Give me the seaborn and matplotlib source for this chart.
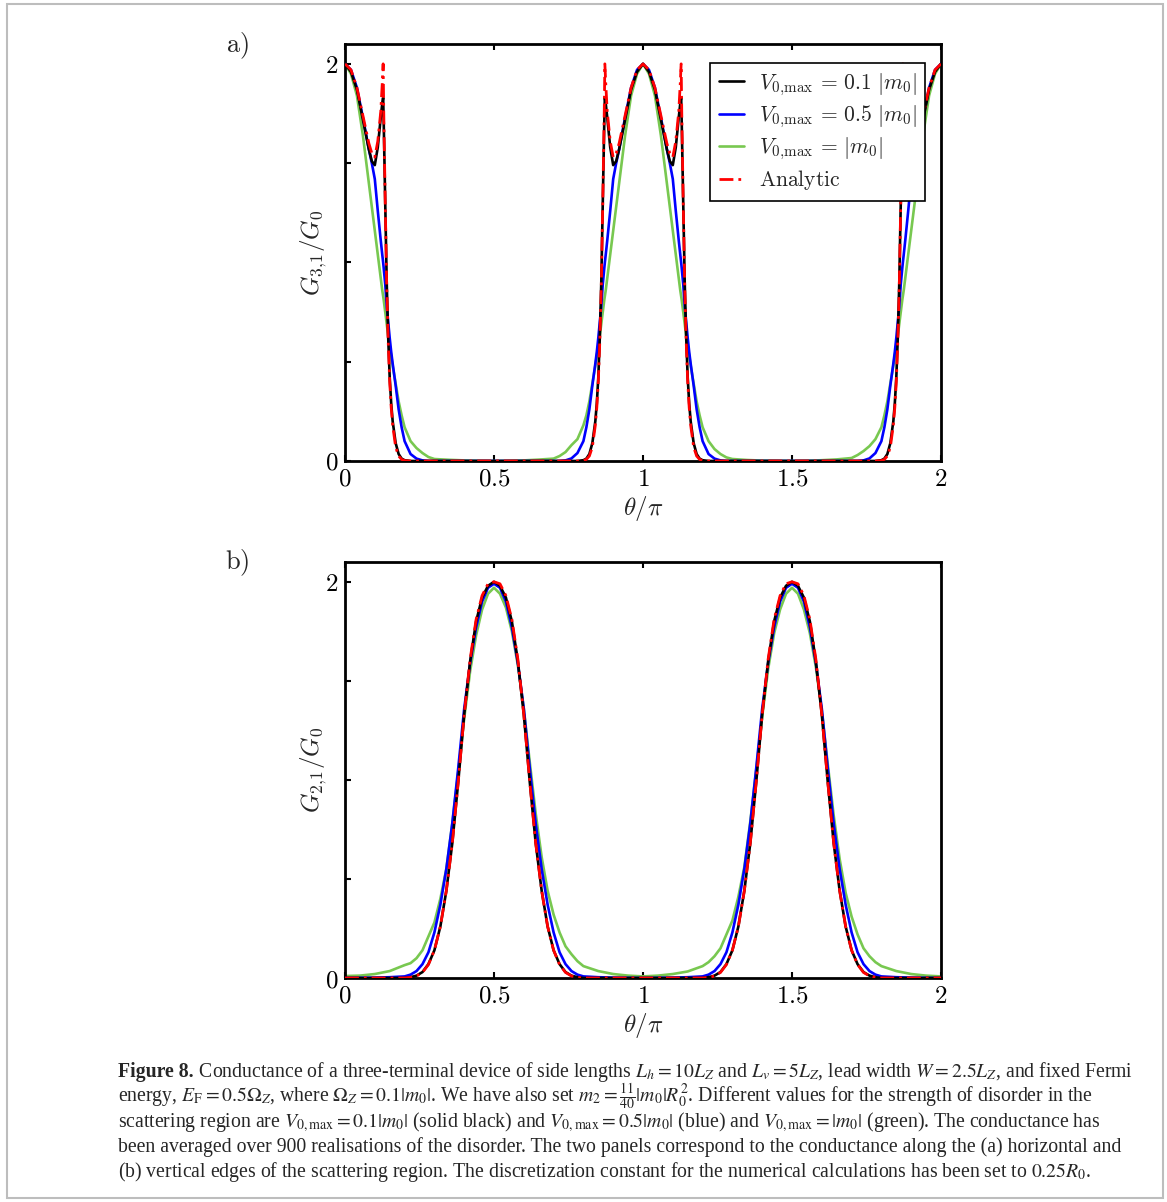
import matplotlib
matplotlib.use("Agg")
import matplotlib.pyplot as plt
from matplotlib.patches import Rectangle
import seaborn as sns
import numpy as np

# ---------------- data: panel (a) G_{3,1}/G_0 ----------------
theta_a = [0, 0.02, 0.04, 0.06, 0.08, 0.09, 0.10, 0.11, 0.12, 0.125, 0.128, 0.13, 0.135, 0.14,
           0.145, 0.15, 0.155, 0.16, 0.17, 0.18, 0.19, 0.20, 0.22, 0.24, 0.26, 0.28, 0.30,
           0.35, 0.40, 0.45, 0.50, 0.55, 0.60, 0.65,
           0.70, 0.72, 0.74, 0.76, 0.78, 0.80, 0.81, 0.82, 0.83, 0.84, 0.845, 0.85, 0.855, 0.86,
           0.865, 0.87, 0.872, 0.875, 0.88, 0.89, 0.90, 0.91, 0.92, 0.94, 0.96, 0.98, 1.00,
           1.02, 1.04, 1.06, 1.08, 1.09, 1.10, 1.11, 1.12, 1.125, 1.128, 1.13, 1.135, 1.14,
           1.145, 1.15, 1.155, 1.16, 1.17, 1.18, 1.19, 1.20, 1.22, 1.24, 1.26, 1.28, 1.30,
           1.35, 1.40, 1.45, 1.50, 1.55, 1.60, 1.65,
           1.70, 1.72, 1.74, 1.76, 1.78, 1.80, 1.81, 1.82, 1.83, 1.84, 1.845, 1.85, 1.855, 1.86,
           1.865, 1.87, 1.872, 1.875, 1.88, 1.89, 1.90, 1.91, 1.92, 1.94, 1.96, 1.98, 2.00]

g31_v01 = [2.00, 1.96, 1.87, 1.72, 1.57, 1.51, 1.49, 1.58, 1.73, 1.80, 1.83, 1.70, 1.30, 0.90,
           0.62, 0.42, 0.29, 0.20, 0.09, 0.035, 0.012, 0.004, 0, 0, 0, 0, 0,
           0, 0, 0, 0, 0, 0, 0,
           0, 0, 0, 0, 0, 0.004, 0.012, 0.035, 0.09, 0.20, 0.29, 0.42, 0.62, 0.90,
           1.30, 1.70, 1.83, 1.80, 1.73, 1.58, 1.49, 1.51, 1.57, 1.72, 1.87, 1.96, 2.00,
           1.96, 1.87, 1.72, 1.57, 1.51, 1.49, 1.58, 1.73, 1.80, 1.83, 1.70, 1.30, 0.90,
           0.62, 0.42, 0.29, 0.20, 0.09, 0.035, 0.012, 0.004, 0, 0, 0, 0, 0,
           0, 0, 0, 0, 0, 0, 0,
           0, 0, 0, 0, 0, 0.004, 0.012, 0.035, 0.09, 0.20, 0.29, 0.42, 0.62, 0.90,
           1.30, 1.70, 1.83, 1.80, 1.73, 1.58, 1.49, 1.51, 1.57, 1.72, 1.87, 1.96, 2.00]

g31_v05 = [2.00, 1.97, 1.88, 1.73, 1.57, 1.50, 1.42, 1.26, 1.11, 1.04, 1.00, 0.97, 0.89, 0.78,
           0.70, 0.62, 0.55, 0.49, 0.38, 0.26, 0.17, 0.10, 0.035, 0.012, 0.003, 0, 0,
           0, 0, 0, 0, 0, 0, 0,
           0, 0, 0.003, 0.013, 0.04, 0.10, 0.17, 0.26, 0.38, 0.49, 0.55, 0.62, 0.70, 0.78,
           0.89, 0.97, 1.00, 1.04, 1.11, 1.26, 1.42, 1.50, 1.57, 1.73, 1.88, 1.97, 2.00,
           1.97, 1.88, 1.73, 1.57, 1.50, 1.42, 1.26, 1.11, 1.04, 1.00, 0.97, 0.89, 0.78,
           0.70, 0.62, 0.55, 0.49, 0.38, 0.26, 0.17, 0.10, 0.035, 0.012, 0.003, 0, 0,
           0, 0, 0, 0, 0, 0, 0,
           0, 0, 0.003, 0.013, 0.04, 0.10, 0.17, 0.26, 0.38, 0.49, 0.55, 0.62, 0.70, 0.78,
           0.89, 0.97, 1.00, 1.04, 1.11, 1.26, 1.42, 1.50, 1.57, 1.73, 1.88, 1.97, 2.00]

g31_v10 = [2.00, 1.95, 1.84, 1.64, 1.40, 1.28, 1.16, 1.04, 0.92, 0.86, 0.83, 0.81, 0.75, 0.69,
           0.63, 0.58, 0.53, 0.48, 0.39, 0.30, 0.23, 0.17, 0.10, 0.065, 0.04, 0.02, 0.01,
           0.006, 0.003, 0.001, 0.0, 0.001, 0.003, 0.007,
           0.012, 0.025, 0.045, 0.08, 0.11, 0.18, 0.23, 0.30, 0.39, 0.48, 0.53, 0.58, 0.63, 0.69,
           0.75, 0.81, 0.83, 0.86, 0.92, 1.04, 1.16, 1.28, 1.40, 1.64, 1.84, 1.95, 2.00,
           1.95, 1.84, 1.64, 1.40, 1.28, 1.16, 1.04, 0.92, 0.86, 0.83, 0.81, 0.75, 0.69,
           0.63, 0.58, 0.53, 0.48, 0.39, 0.30, 0.23, 0.17, 0.10, 0.06, 0.035, 0.018, 0.01,
           0.005, 0.002, 0.001, 0.0, 0.001, 0.004, 0.008,
           0.015, 0.03, 0.05, 0.075, 0.11, 0.17, 0.23, 0.30, 0.39, 0.48, 0.53, 0.58, 0.63, 0.69,
           0.75, 0.81, 0.83, 0.86, 0.92, 1.04, 1.16, 1.28, 1.40, 1.64, 1.84, 1.95, 2.00]

g31_analytic = [2.00, 1.97, 1.88, 1.74, 1.60, 1.55, 1.53, 1.61, 1.76, 1.90, 2.00, 1.76, 1.30, 0.88,
                0.60, 0.40, 0.27, 0.18, 0.07, 0.025, 0.008, 0.002, 0, 0, 0, 0, 0,
                0, 0, 0, 0, 0, 0, 0,
                0, 0, 0, 0, 0, 0.002, 0.008, 0.025, 0.07, 0.18, 0.27, 0.40, 0.60, 0.88,
                1.30, 1.76, 2.00, 1.90, 1.76, 1.61, 1.53, 1.55, 1.60, 1.74, 1.88, 1.97, 2.00,
                1.97, 1.88, 1.74, 1.60, 1.55, 1.53, 1.61, 1.76, 1.90, 2.00, 1.76, 1.30, 0.88,
                0.60, 0.40, 0.27, 0.18, 0.07, 0.025, 0.008, 0.002, 0, 0, 0, 0, 0,
                0, 0, 0, 0, 0, 0, 0,
                0, 0, 0, 0, 0, 0.002, 0.008, 0.025, 0.07, 0.18, 0.27, 0.40, 0.60, 0.88,
                1.30, 1.76, 2.00, 1.90, 1.76, 1.61, 1.53, 1.55, 1.60, 1.74, 1.88, 1.97, 2.00]

# ---------------- data: panel (b) G_{2,1}/G_0 ----------------
theta_b = [0, 0.05, 0.10, 0.15,
           0.20, 0.22, 0.24, 0.26, 0.28, 0.30, 0.32, 0.34, 0.36, 0.38, 0.40, 0.42, 0.44, 0.46,
           0.48, 0.50, 0.52, 0.54, 0.56, 0.58, 0.60, 0.62, 0.64, 0.66, 0.68, 0.70, 0.72, 0.74,
           0.76, 0.78, 0.80,
           0.85, 0.90, 0.95, 1.00, 1.05, 1.10, 1.15,
           1.20, 1.22, 1.24, 1.26, 1.28, 1.30, 1.32, 1.34, 1.36, 1.38, 1.40, 1.42, 1.44, 1.46,
           1.48, 1.50, 1.52, 1.54, 1.56, 1.58, 1.60, 1.62, 1.64, 1.66, 1.68, 1.70, 1.72, 1.74,
           1.76, 1.78, 1.80,
           1.85, 1.90, 1.95, 2.00]

g21_v01 = [0, 0, 0, 0,
           0.0, 0.004, 0.012, 0.03, 0.07, 0.14, 0.26, 0.44, 0.68, 0.99, 1.33, 1.60, 1.80, 1.92,
           1.98, 2.00, 1.98, 1.92, 1.80, 1.60, 1.33, 0.99, 0.68, 0.44, 0.26, 0.14, 0.07, 0.03,
           0.012, 0.004, 0.0,
           0, 0, 0, 0, 0, 0, 0,
           0.0, 0.004, 0.012, 0.03, 0.07, 0.14, 0.26, 0.44, 0.68, 0.99, 1.33, 1.60, 1.80, 1.92,
           1.98, 2.00, 1.98, 1.92, 1.80, 1.60, 1.33, 0.99, 0.68, 0.44, 0.26, 0.14, 0.07, 0.03,
           0.012, 0.004, 0.0,
           0, 0, 0, 0]

g21_v05 = [0, 0.001, 0.002, 0.004,
           0.008, 0.017, 0.035, 0.07, 0.13, 0.23, 0.37, 0.55, 0.78, 1.06, 1.36, 1.59, 1.77, 1.90,
           1.97, 1.99, 1.97, 1.90, 1.77, 1.59, 1.36, 1.06, 0.78, 0.55, 0.37, 0.23, 0.13, 0.07,
           0.035, 0.017, 0.008,
           0.004, 0.002, 0.001, 0, 0.001, 0.002, 0.004,
           0.008, 0.017, 0.035, 0.07, 0.13, 0.23, 0.37, 0.55, 0.78, 1.06, 1.36, 1.59, 1.77, 1.90,
           1.97, 1.99, 1.97, 1.90, 1.77, 1.59, 1.36, 1.06, 0.78, 0.55, 0.37, 0.23, 0.13, 0.07,
           0.035, 0.017, 0.008,
           0.004, 0.002, 0.001, 0]

g21_v10 = [0.01, 0.012, 0.02, 0.035,
           0.065, 0.075, 0.10, 0.14, 0.21, 0.28, 0.40, 0.55, 0.78, 1.04, 1.31, 1.55, 1.73, 1.86,
           1.94, 1.97, 1.94, 1.87, 1.75, 1.58, 1.36, 1.09, 0.83, 0.61, 0.44, 0.32, 0.23, 0.16,
           0.12, 0.085, 0.06,
           0.035, 0.02, 0.012, 0.008, 0.012, 0.02, 0.033,
           0.06, 0.08, 0.11, 0.15, 0.22, 0.29, 0.41, 0.56, 0.79, 1.05, 1.32, 1.56, 1.74, 1.86,
           1.94, 1.97, 1.94, 1.86, 1.74, 1.57, 1.35, 1.08, 0.82, 0.60, 0.43, 0.31, 0.22, 0.15,
           0.11, 0.08, 0.06,
           0.035, 0.02, 0.012, 0.008]

g21_analytic = [0, 0, 0, 0,
                0.0, 0.003, 0.010, 0.028, 0.068, 0.14, 0.26, 0.44, 0.68, 0.99, 1.33, 1.61, 1.81, 1.93,
                1.99, 2.00, 1.99, 1.93, 1.81, 1.61, 1.33, 0.99, 0.68, 0.44, 0.26, 0.14, 0.068, 0.028,
                0.010, 0.003, 0.0,
                0, 0, 0, 0, 0, 0, 0,
                0.0, 0.003, 0.010, 0.028, 0.068, 0.14, 0.26, 0.44, 0.68, 0.99, 1.33, 1.61, 1.81, 1.93,
                1.99, 2.00, 1.99, 1.93, 1.81, 1.61, 1.33, 0.99, 0.68, 0.44, 0.26, 0.14, 0.068, 0.028,
                0.010, 0.003, 0.0,
                0, 0, 0, 0]

labels = [r'$V_{0,\!\mathrm{max}}\,=\,0.1\ |m_0|$', r'$V_{0,\!\mathrm{max}}\,=\,0.5\ |m_0|$',
          r'$V_{0,\!\mathrm{max}}\,=\,|m_0|$', r'$\mathrm{Analytic}$']
colors = ['#000000', '#0000ff', '#78c850', '#ff0000']
xticks = [0, 0.5, 1, 1.5, 2]
xticklabels = [r'$0$', r'$0.5$', r'$1$', r'$1.5$', r'$2$']
yticks = [0, 0.5, 1, 1.5, 2]
yticklabels = [r'$0$', '', '', '', r'$2$']

# ---------------- style ----------------
sns.set_theme(style='ticks')
plt.rcParams['font.family'] = ['DejaVu Serif']
plt.rcParams['mathtext.fontset'] = 'cm'

W, H = 1167, 1202
fig = plt.figure(figsize=(W / 100, H / 100), dpi=100)
fig.patch.set_facecolor('white')

def px_axes(l, t, r, b):
    return fig.add_axes([l / W, 1 - b / H, (r - l) / W, (b - t) / H])

ax_a = px_axes(345, 44, 941, 461)
ax_b = px_axes(345, 562, 941, 978)

dash_dot = (0, (5, 1.8, 1, 1.8))

def draw_panel(ax, theta, series, ylabel, legend):
    order = [2, 1, 0, 3]  # drawing order: green, blue, black, analytic on top
    handles = [None] * 4
    for z, i in enumerate(order):
        kw = dict(linestyle=dash_dot, linewidth=2.0) if i == 3 else dict(linewidth=1.9)
        sns.lineplot(x=theta, y=series[i], ax=ax, color=colors[i], label=labels[i],
                     zorder=2 + z, legend=False, **kw)
        handles[i] = ax.lines[-1]
    ax.set_xlim(0, 2)
    ax.set_ylim(0, 2.1)
    ax.set_xticks(xticks)
    ax.set_xticklabels(xticklabels)
    ax.set_yticks(yticks)
    ax.set_yticklabels(yticklabels)
    ax.tick_params(direction='in', top=True, right=False, length=4.5, width=1.5,
                   labelsize=18, pad=5, colors='black')
    for s in ax.spines.values():
        s.set_linewidth(2.0)
        s.set_color('black')
    ax.set_xlabel(r'$\theta/\pi$', fontsize=18)
    ax.set_ylabel(ylabel, fontsize=18)
    ax.xaxis.set_label_coords(0.5, -0.08)
    ax.yaxis.set_label_coords(-0.027, 0.5)
    if legend:
        leg = ax.legend(handles=handles, labels=labels, loc='upper right',
                        bbox_to_anchor=(0.9735, 0.955), fontsize=15.5, frameon=True,
                        fancybox=False, framealpha=1, edgecolor='black',
                        handlelength=1.15, handletextpad=0.7, labelspacing=0.28,
                        borderpad=0.4, borderaxespad=0.0)
        leg.get_frame().set_linewidth(1.2)

draw_panel(ax_a, theta_a, [g31_v01, g31_v05, g31_v10, g31_analytic], r'$G_{3,\!1}/G_0$', True)
draw_panel(ax_b, theta_b, [g21_v01, g21_v05, g21_v10, g21_analytic], r'$G_{2,\!1}/G_0$', False)

fig.text(237 / W, 1 - 46 / H, r'$\mathrm{a)}$', fontsize=19, ha='center', va='center')
fig.text(237 / W, 1 - 563 / H, r'$\mathrm{b)}$', fontsize=19, ha='center', va='center')

# frame around figure + caption
fig.patches.append(Rectangle((7 / W, 1 - 1198 / H), (1163 - 7) / W, (1198 - 4) / H,
                             transform=fig.transFigure, fill=False,
                             edgecolor='#bdbdbd', linewidth=1.5))

cap_lines = [
    r" Conductance of a three-terminal device of side lengths $L_h = 10L_Z$ and $L_v = 5L_Z$, lead width $W = 2.5L_Z$, and fixed Fermi",
    r"energy, $E_\mathrm{F} = 0.5\Omega_Z$, where $\Omega_Z = 0.1|m_0|$. We have also set $m_2 = \frac{11}{40}|m_0|R_0^2$. Different values for the strength of disorder in the",
    r"scattering region are $V_{0,\mathrm{max}} = 0.1|m_0|$ (solid black) and $V_{0,\mathrm{max}} = 0.5|m_0|$ (blue) and $V_{0,\mathrm{max}} = |m_0|$ (green). The conductance has",
    r"been averaged over 900 realisations of the disorder. The two panels correspond to the conductance along the (a) horizontal and",
    r"(b) vertical edges of the scattering region. The discretization constant for the numerical calculations has been set to $0.25R_0$.",
]
baselines = [1077, 1102, 1127, 1152, 1177]
cap_x = 118
fs0 = 14
cap_kw = dict(family='Liberation Serif', math_fontfamily='stix', va='baseline', ha='left')
bold = fig.text(cap_x / W, 1 - baselines[0] / H, 'Figure 8.', fontweight='bold', fontsize=fs0, **cap_kw)
texts = [fig.text(cap_x / W, 1 - b / H, s, fontsize=fs0, **cap_kw) for s, b in zip(cap_lines, baselines)]

fig.canvas.draw()
r = fig.canvas.get_renderer()
bw = bold.get_window_extent(r).width
tw = texts[0].get_window_extent(r).width
scale = (1137 - cap_x) / (bw + tw)
fs = fs0 * scale
bold.set_fontsize(fs)
for t in texts:
    t.set_fontsize(fs)
fig.canvas.draw()
bw = bold.get_window_extent(r).width
texts[0].set_x((cap_x + bw) / W)

fig.savefig('out.png', dpi=100, facecolor='white')
